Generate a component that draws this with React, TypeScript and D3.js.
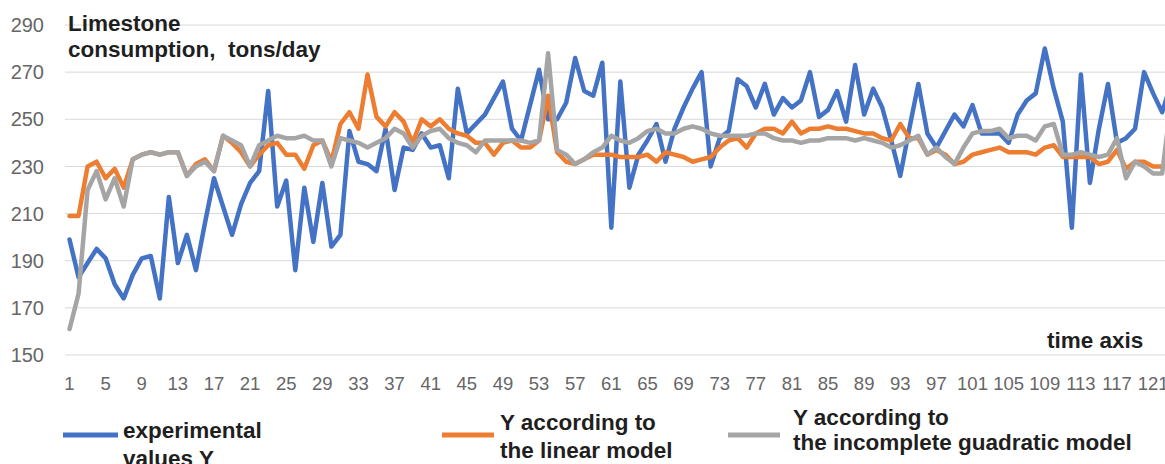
import React, { useEffect, useRef } from 'react';
import * as d3 from 'd3';

// time index 1..123 (the last point is cut by the right edge)
const experimental = [
  199, 183, 189, 195, 191, 180, 174, 184, 191, 192,
  174, 217, 189, 201, 186, 206, 225, 213, 201, 214,
  223, 228, 262, 213, 224, 186, 221, 198, 223, 196,
  201, 245, 232, 231, 228, 246, 220, 238, 237, 244,
  238, 239, 225, 263, 244, 248, 252, 259, 266, 246,
  241, 256, 271, 250, 250, 257, 276, 262, 260, 274,
  204, 266, 221, 235, 241, 248, 232, 246, 255, 263,
  270, 230, 242, 245, 267, 264, 255, 265, 252, 259,
  255, 258, 270, 251, 254, 262, 249, 273, 252, 263,
  255, 241, 226, 246, 265, 244, 238, 245, 252, 247,
  256, 244, 244, 244, 240, 252, 258, 261, 280, 263,
  249, 204, 269, 223, 246, 265, 240, 242, 246, 270,
  261, 253, 265,
];

const linearModel = [
  209, 209, 230, 232, 225, 229, 221, 233, 235, 236,
  235, 236, 236, 226, 231, 233, 228, 243, 240, 236,
  230, 235, 239, 240, 235, 235, 229, 239, 241, 232,
  248, 253, 246, 269, 251, 247, 253, 249, 240, 250,
  247, 250, 246, 244, 243, 240, 240, 235, 240, 241,
  238, 238, 241, 260, 236, 232, 231, 233, 235, 235,
  235, 234, 234, 234, 235, 232, 236, 235, 234, 232,
  233, 234, 238, 241, 242, 238, 244, 246, 246, 244,
  249, 244, 246, 246, 247, 246, 246, 245, 244, 244,
  242, 241, 248, 242, 242, 235, 237, 235, 231, 232,
  235, 236, 237, 238, 236, 236, 236, 235, 238, 239,
  234, 234, 234, 234, 231, 232, 237, 229, 232, 232,
  230, 230, 232,
];

const quadraticModel = [
  161, 176, 220, 228, 216, 225, 213, 233, 235, 236,
  235, 236, 236, 226, 230, 232, 228, 243, 241, 239,
  230, 239, 241, 243, 242, 242, 243, 241, 241, 230,
  242, 241, 240, 238, 240, 242, 246, 244, 238, 243,
  245, 246, 242, 240, 239, 236, 241, 241, 241, 241,
  241, 240, 241, 278, 237, 235, 231, 233, 236, 238,
  243, 241, 240, 242, 245, 246, 244, 244, 246, 247,
  246, 244, 243, 243, 243, 243, 244, 244, 242, 241,
  241, 240, 241, 241, 242, 242, 242, 241, 242, 241,
  240, 238, 239, 241, 243, 235, 238, 234, 231, 238,
  244, 245, 245, 246, 242, 243, 243, 241, 247, 248,
  235, 235, 236, 235, 234, 235, 242, 225, 232, 230,
  227, 227, 258,
];

const yTicks = [150, 170, 190, 210, 230, 250, 270, 290];
const categories = experimental.map((_, i) => i + 1);
const xTickLabels = categories.filter(c => (c - 1) % 4 === 0 && c <= 121);

const series = [
  { name: 'experimental', values: experimental, color: '#4472c4', legend: ['experimental', 'values Y'] },
  { name: 'linear', values: linearModel, color: '#ed7d31', legend: ['Y according to', 'the linear model'] },
  { name: 'quadratic', values: quadraticModel, color: '#a5a5a5', legend: ['Y according to', 'the incomplete guadratic model'] },
];

const width = 1165;
const height = 464;
const font = '"Liberation Sans", Arial, sans-serif';

const App = () => {
  const ref = useRef(null);

  useEffect(() => {
    const svg = d3.select(ref.current);
    svg.selectAll('*').remove();

    const plotLeft = 65;
    const step = 9.03;
    const x = d3.scaleBand()
      .domain(categories.map(String))
      .range([plotLeft, plotLeft + step * categories.length])
      .padding(0);
    const cx = c => x(String(c)) + x.bandwidth() / 2;

    const y = d3.scaleLinear().domain([150, 290]).range([355, 25]);

    // gridlines
    svg.append('g')
      .selectAll('line')
      .data(yTicks)
      .join('line')
      .attr('x1', plotLeft)
      .attr('x2', width)
      .attr('y1', d => y(d))
      .attr('y2', d => y(d))
      .attr('stroke', '#d9d9d9')
      .attr('stroke-width', 1);

    // y tick labels
    svg.append('g')
      .selectAll('text')
      .data(yTicks)
      .join('text')
      .attr('x', 44)
      .attr('y', d => y(d))
      .attr('dy', '0.36em')
      .attr('text-anchor', 'end')
      .style('font-family', font)
      .style('font-size', '20px')
      .attr('fill', '#666')
      .text(d => d);

    // x tick labels
    svg.append('g')
      .selectAll('text')
      .data(xTickLabels)
      .join('text')
      .attr('x', d => cx(d))
      .attr('y', 390)
      .attr('text-anchor', 'middle')
      .style('font-family', font)
      .style('font-size', '18.5px')
      .attr('fill', '#666')
      .text(d => d);

    // lines
    const line = d3.line()
      .x((d, i) => cx(categories[i]))
      .y(d => y(d));

    series.forEach(s => {
      svg.append('path')
        .datum(s.values)
        .attr('fill', 'none')
        .attr('stroke', s.color)
        .attr('stroke-width', 4.5)
        .attr('stroke-linejoin', 'round')
        .attr('stroke-linecap', 'round')
        .attr('d', line);
    });

    const bold = (sel, tx, ty, txt) => sel.append('text')
      .attr('x', tx)
      .attr('y', ty)
      .style('font-family', font)
      .style('font-size', '22.5px')
      .style('font-weight', 'bold')
      .style('white-space', 'pre')
      .attr('fill', '#1f1f1f')
      .text(txt);

    // axis titles
    bold(svg, 68, 31, 'Limestone');
    bold(svg, 68, 57, 'consumption,  tons/day');
    bold(svg, 1047, 348, 'time axis');

    // legend
    const legendPos = [
      { x1: 63, x2: 118, tx: 123, lines: [438, 466] },
      { x1: 442, x2: 494, tx: 500, lines: [430, 458] },
      { x1: 728, x2: 780, tx: 793, lines: [425, 450] },
    ];
    series.forEach((s, i) => {
      const p = legendPos[i];
      svg.append('line')
        .attr('x1', p.x1)
        .attr('x2', p.x2)
        .attr('y1', 435)
        .attr('y2', 435)
        .attr('stroke', s.color)
        .attr('stroke-width', 5);
      s.legend.forEach((t, j) => bold(svg, p.tx, p.lines[j], t));
    });
  }, []);

  return (
    <svg
      ref={ref}
      width={width}
      height={height}
      style={{ position: 'absolute', left: 0, top: 0, background: '#fff', display: 'block' }}
    />
  );
};

export default App;
